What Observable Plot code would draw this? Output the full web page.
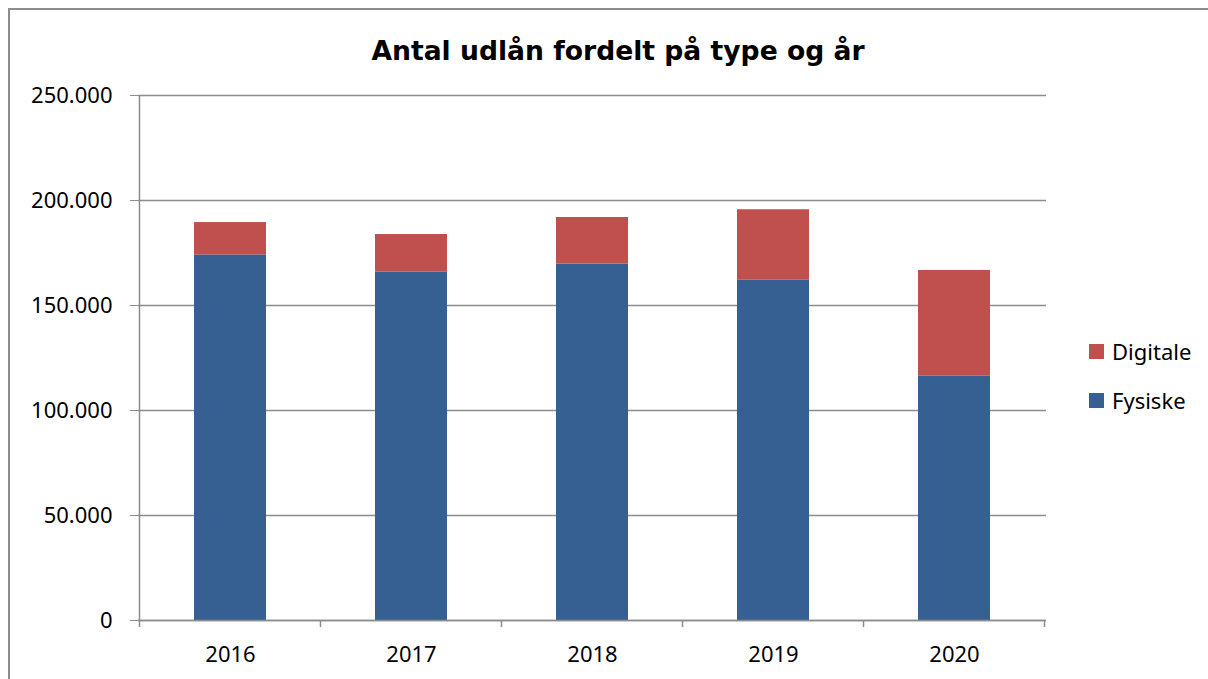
<!DOCTYPE html>
<html><head><meta charset="utf-8">
<script src="https://cdn.jsdelivr.net/npm/d3@7"></script>
<script src="https://cdn.jsdelivr.net/npm/@observablehq/plot@0.6"></script>
<style>
body{margin:0;background:#fff;}
#wrap{position:relative;width:1208px;height:679px;overflow:hidden;background:#fff;font-family:"Noto Sans",sans-serif;}
#border{position:absolute;left:8px;top:8px;width:1400px;height:800px;border:2px solid #8c8c8c;box-sizing:border-box;}
#chart{position:absolute;left:0;top:0;}
#title{position:absolute;left:0;width:1236px;top:36px;line-height:30px;text-align:center;font-family:"DejaVu Sans",sans-serif;font-weight:bold;font-size:26.6px;color:#000;}
.leg{position:absolute;left:1089px;font-size:22px;line-height:30px;color:#000;white-space:nowrap;}
.sw{position:absolute;width:15px;height:15px;left:1089px;}
</style>
</head><body>
<div id="wrap">
  <div id="border"></div>
  <div id="chart"></div>
  <div id="title">Antal udlån fordelt på type og år</div>
</div>
<script>
const years = ["2016", "2017", "2018", "2019", "2020"];
const fysiske = [174100, 166000, 169700, 162200, 116300];
const digitale = [15400, 17800, 22200, 33400, 50400];
const types = ["Digitale", "Fysiske"];
const colors = ["#C0504D", "#376092"];
const yTicks = [0, 50000, 100000, 150000, 200000, 250000];

const data = [];
years.forEach((y, i) => {
  data.push({year: y, type: "Fysiske", value: fysiske[i]});
  data.push({year: y, type: "Digitale", value: digitale[i]});
});

const fmt = d3.formatLocale({decimal: ",", thousands: ".", grouping: [3], currency: ["", ""]}).format(",d");
const gray = "#8c8c8c";

const plot = Plot.plot({
  width: 1208,
  height: 679,
  marginLeft: 138,
  marginRight: 162,
  marginTop: 95,
  marginBottom: 59,
  style: {fontFamily: "Noto Sans, sans-serif", fontSize: "22px", color: "#000", background: "transparent"},
  x: {domain: years, paddingInner: 0.6, paddingOuter: 0.3, label: null},
  y: {domain: [0, 250000], label: null},
  color: {domain: types, range: colors},
  marks: [
    Plot.gridY(yTicks, {stroke: gray, strokeOpacity: 1, strokeWidth: 1.5}),
    Plot.barY(data, {x: "year", y: "value", fill: "type", order: ["Fysiske", "Digitale"]}),
    Plot.ruleY([0], {stroke: gray, strokeWidth: 1.5}),
    Plot.axisY(yTicks, {tickSize: 8, tickPadding: 18, tickFormat: fmt, stroke: gray, fill: "#000", label: null}),
    Plot.axisX({tickSize: 0, tickPadding: 26, fill: "#000", label: null})
  ]
});
document.getElementById("chart").appendChild(plot);

// axis line and category boundary ticks from the plot's own scales
const xs = plot.scale("x"), ys = plot.scale("y");
const step = xs.step, bw = xs.bandwidth;
const y0 = ys.apply(0), yTop = ys.apply(yTicks[yTicks.length - 1]);
const svg = d3.select(plot.tagName.toLowerCase() === "svg" ? plot : plot.querySelector("svg"));
const g = svg.append("g").attr("stroke", gray).attr("stroke-width", 1.5);
const x0 = xs.apply(years[0]) + bw / 2 - step / 2;
g.append("line").attr("x1", x0).attr("x2", x0).attr("y1", yTop).attr("y2", y0 + 1);
for (let i = 0; i <= years.length; i++) {
  const x = x0 + i * step;
  g.append("line").attr("x1", x).attr("x2", x).attr("y1", y0).attr("y2", y0 + 7);
}

// legend
const wrap = document.getElementById("wrap");
const legTops = [336, 385];
types.forEach((t, i) => {
  const sw = document.createElement("div");
  sw.className = "sw";
  sw.style.top = (legTops[i] + 8) + "px";
  sw.style.background = plot.scale("color").apply(t);
  wrap.appendChild(sw);
  const tx = document.createElement("div");
  tx.className = "leg";
  tx.style.left = "1112px";
  tx.style.top = legTops[i] + "px";
  tx.textContent = t;
  wrap.appendChild(tx);
});
</script>
</body></html>
